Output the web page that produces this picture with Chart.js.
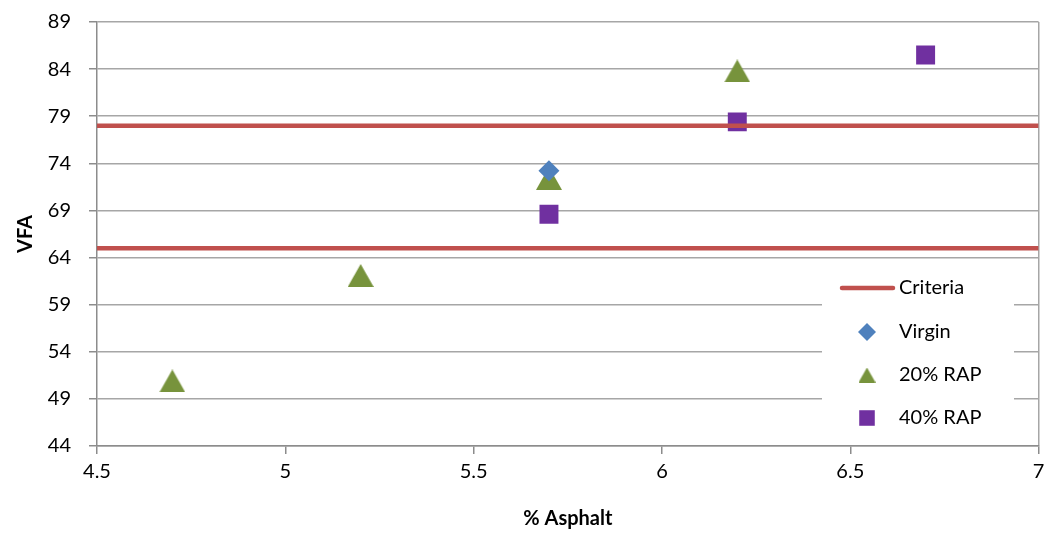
<!DOCTYPE html>
<html>
<head>
<meta charset="utf-8">
<script src="https://cdn.jsdelivr.net/npm/chart.js@4/dist/chart.umd.min.js"></script>
<style>
  html, body { margin: 0; padding: 0; background: #fff; }
  #wrap { width: 1052px; height: 535px; }
</style>
</head>
<body>
<div id="wrap"><canvas id="vfaChart" width="1052" height="535"></canvas></div>
<script>
// asphalt content (%) and VFA per mix
const virginAsphalt = [5.7];
const virginVfa = [73.2];
const rap20Asphalt = [4.7, 5.2, 5.7, 6.2];
const rap20Vfa = [50.9, 62.1, 72.4, 83.8];
const rap40Asphalt = [5.7, 6.2, 6.7];
const rap40Vfa = [68.6, 78.4, 85.5];
// VFA criteria band limits
const criteriaLimits = [78, 65];
const xRange = [4.5, 7];
const yRange = [44, 89];

const FONT = "Lato, 'Open Sans', sans-serif";
const GRID = '#a6a6a6';
const AXIS = '#8c8c8c';
const GREEN = '#77933c';

function pts(xs, ys) {
  return xs.map((x, i) => ({ x: x, y: ys[i] }));
}

// triangle marker centred on its bounding box
function triangleMarker(w, h, color) {
  const c = document.createElement('canvas');
  c.width = w;
  c.height = h;
  const g = c.getContext('2d');
  g.fillStyle = color;
  g.beginPath();
  g.moveTo(0, h);
  g.lineTo(w / 2, 0);
  g.lineTo(w, h);
  g.closePath();
  g.fill();
  return c;
}
const triBig = triangleMarker(26, 23, GREEN);
const triSmall = triangleMarker(17, 15, GREEN);

// two horizontal lines in one dataset, split by a null point
const criteriaPts = [];
criteriaLimits.forEach((v, i) => {
  if (i > 0) criteriaPts.push({ x: xRange[1], y: null });
  criteriaPts.push({ x: xRange[0], y: v }, { x: xRange[1], y: v });
});

// legend drawn inside the plot area, bottom right
const insideLegend = {
  id: 'insideLegend',
  afterDraw(chart) {
    const ctx = chart.ctx;
    ctx.save();
    ctx.fillStyle = '#fff';
    ctx.fillRect(822, 263, 192, 178);
    ctx.font = '20px ' + FONT;
    ctx.textBaseline = 'middle';
    const rows = [288, 332, 375, 418];
    chart.data.datasets.forEach((ds, i) => {
      const y = rows[i];
      if (ds.showLine) {
        ctx.strokeStyle = ds.borderColor;
        ctx.lineWidth = ds.borderWidth;
        ctx.lineCap = 'round';
        ctx.beginPath();
        ctx.moveTo(842, y);
        ctx.lineTo(893, y);
        ctx.stroke();
      } else if (ds.legendImage) {
        const im = ds.legendImage;
        ctx.drawImage(im, 867 - im.width / 2, y - im.height / 2);
      } else {
        ctx.fillStyle = ds.backgroundColor;
        ctx.strokeStyle = ds.backgroundColor;
        Chart.helpers.drawPoint(ctx, {
          pointStyle: ds.pointStyle,
          radius: ds.legendRadius,
          rotation: 0,
          borderWidth: 0
        }, 867, y);
      }
      ctx.fillStyle = '#000';
      ctx.fillText(ds.label, 899, y);
    });
    ctx.restore();
  }
};

new Chart(document.getElementById('vfaChart'), {
  type: 'scatter',
  data: {
    datasets: [
      {
        label: 'Criteria',
        data: criteriaPts,
        showLine: true,
        spanGaps: false,
        borderColor: '#c0504d',
        borderWidth: 4.5,
        pointRadius: 0,
        pointHoverRadius: 0
      },
      {
        label: 'Virgin',
        data: pts(virginAsphalt, virginVfa),
        pointStyle: 'rectRot',
        pointRadius: 10.5,
        legendRadius: 9,
        backgroundColor: '#4f81bd',
        borderColor: '#4f81bd',
        borderWidth: 0
      },
      {
        label: '20% RAP',
        data: pts(rap20Asphalt, rap20Vfa),
        pointStyle: triBig,
        legendImage: triSmall,
        pointRadius: 13,
        backgroundColor: GREEN,
        borderColor: GREEN,
        borderWidth: 0
      },
      {
        label: '40% RAP',
        data: pts(rap40Asphalt, rap40Vfa),
        pointStyle: 'rect',
        pointRadius: 13.4,
        legendRadius: 11,
        backgroundColor: '#7030a0',
        borderColor: '#7030a0',
        borderWidth: 0
      }
    ]
  },
  options: {
    responsive: false,
    animation: false,
    layout: { padding: { top: 22, right: 12, left: 0, bottom: 0 } },
    plugins: {
      legend: { display: false },
      tooltip: { enabled: false }
    },
    scales: {
      x: {
        type: 'linear',
        min: xRange[0],
        max: xRange[1],
        ticks: {
          stepSize: 0.5,
          padding: 6,
          color: '#000',
          font: { family: FONT, size: 20 },
          maxRotation: 0,
          callback: (v) => String(v)
        },
        grid: {
          color: (c) => (c.tick && c.tick.value === xRange[1]) ? GRID : 'rgba(0,0,0,0)',
          tickColor: AXIS,
          tickLength: 8,
          lineWidth: 1.5
        },
        border: { color: AXIS, width: 1.5 },
        title: {
          display: true,
          text: '% Asphalt',
          color: '#000',
          font: { family: FONT, size: 20, weight: 'bold' },
          padding: { top: 12, bottom: 4 }
        },
        afterFit(scale) {
          scale.height = 89;
          scale.paddingLeft = 0;
          scale.paddingRight = 0;
        }
      },
      y: {
        min: yRange[0],
        max: yRange[1],
        ticks: {
          stepSize: 5,
          padding: 18,
          color: '#000',
          font: { family: FONT, size: 20 }
        },
        grid: {
          color: GRID,
          tickColor: AXIS,
          tickLength: 8,
          lineWidth: 1.5
        },
        border: { color: AXIS, width: 1.5 },
        title: {
          display: true,
          text: 'VFA',
          color: '#000',
          font: { family: FONT, size: 20, weight: 'bold' },
          padding: { top: 14, bottom: 0 }
        },
        afterFit(scale) {
          scale.width = 97;
          scale.paddingTop = 0;
          scale.paddingBottom = 0;
        }
      }
    }
  },
  plugins: [insideLegend]
});
</script>
</body>
</html>
